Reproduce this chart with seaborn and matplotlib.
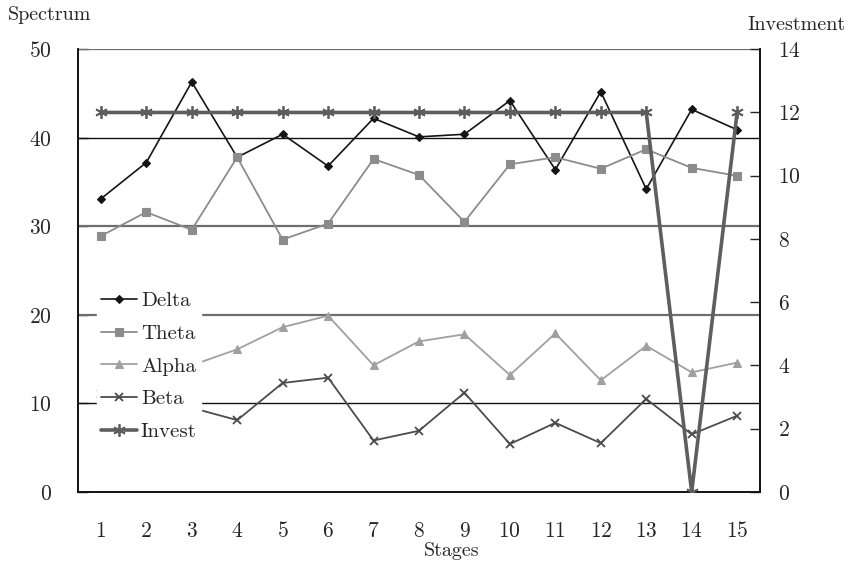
import numpy as np
import pandas as pd
import matplotlib.pyplot as plt
import seaborn as sns

stages = list(range(1, 16))
delta = [33.1, 37.2, 46.3, 37.8, 40.4, 36.8, 42.2, 40.1, 40.4, 44.2, 36.4, 45.2, 34.2, 43.2, 40.9]
theta = [28.9, 31.6, 29.6, 37.8, 28.5, 30.3, 37.6, 35.8, 30.5, 37.0, 37.8, 36.5, 38.7, 36.6, 35.7]
alpha = [17.4, 15.8, 14.3, 16.1, 18.6, 19.9, 14.3, 17.0, 17.8, 13.2, 17.9, 12.6, 16.5, 13.5, 14.6]
beta = [11.0, 10.6, 9.5, 8.1, 12.3, 12.9, 5.8, 6.9, 11.2, 5.4, 7.8, 5.5, 10.5, 6.5, 8.6]
invest = [12, 12, 12, 12, 12, 12, 12, 12, 12, 12, 12, 12, 12, 0, 12]

sns.set_style("white")
plt.rcParams['font.family'] = ['cmr10', 'DejaVu Serif']
plt.rcParams['axes.formatter.use_mathtext'] = True
plt.rcParams['mathtext.fontset'] = 'cm'

fig = plt.figure(figsize=(8.49, 5.66), dpi=100)
ax = fig.add_axes([0.092, 0.131, 0.803, 0.782])
ax2 = ax.twinx()

# horizontal grid lines (black / gray alternating like the original)
grid_cols = {10: '#111111', 20: '#6e6e6e', 30: '#6e6e6e', 40: '#111111', 50: '#6e6e6e'}
for yv, c in grid_cols.items():
    ax.axhline(yv, color=c, lw=1.0 if c == '#111111' else 1.6, zorder=1)

series = [
    (ax, delta, 'Delta', '#151515', 'D', 4.5, 1.2),
    (ax, theta, 'Theta', '#8c8c8c', 's', 5.5, 1.3),
    (ax, alpha, 'Alpha', '#a0a0a0', '^', 5.5, 1.3),
    (ax, beta, 'Beta', '#4c4c4c', 'x', 6, 1.3),
    (ax2, invest, 'Invest', '#5e5e5e', (6, 2, 0), 9, 2.6),
]
for a, vals, name, col, mk, ms, lw in series:
    sns.lineplot(x=stages, y=vals, ax=a, color=col, label=name, zorder=3)
    ln = a.lines[-1]
    ln.set_linestyle('-')
    ln.set_linewidth(lw)
    ln.set_marker(mk)
    ln.set_markersize(ms)
    ln.set_markerfacecolor(col)
    ln.set_markeredgecolor(col)
    ln.set_markeredgewidth(1.3 if mk in ('x', (6, 2, 0)) else 0.8)

ax.set_xlim(0.5, 15.5)
ax.set_ylim(0, 50)
ax2.set_ylim(0, 14)
ax.set_yticks([0, 10, 20, 30, 40, 50])
ax2.set_yticks([0, 2, 4, 6, 8, 10, 12, 14])
ax.set_xticks(stages)
ax.set_xticks(np.arange(1.5, 15, 1), minor=True)

ax.tick_params(axis='x', which='major', length=0, pad=21, labelsize=15.5)
ax.tick_params(axis='x', which='minor', direction='in', length=6, width=1)
ax.tick_params(axis='y', direction='in', length=7, width=1, pad=19, labelsize=15.5)
ax2.tick_params(axis='y', direction='in', length=7, width=1, pad=13, labelsize=15.5)

for a in (ax, ax2):
    a.spines['top'].set_visible(False)
    for s in ('left', 'right', 'bottom'):
        a.spines[s].set_color('#111111')
        a.spines[s].set_linewidth(1.2)
ax.set_xlabel('')
ax.set_ylabel('')
ax2.set_ylabel('')

h1, l1 = ax.get_legend_handles_labels()
h2, l2 = ax2.get_legend_handles_labels()
if ax.get_legend():
    ax.get_legend().remove()
leg = ax2.legend(h1 + h2, l1 + l2, loc='upper left', bbox_to_anchor=(0.028, 0.462),
                 frameon=True, facecolor='white', edgecolor='white', framealpha=1,
                 fontsize=15, handlelength=1.7, handletextpad=0.2, labelspacing=0.68,
                 borderpad=0.2, borderaxespad=0)
leg.set_zorder(10)

fig.text(0.009, 0.973, 'Spectrum', fontsize=14.5, ha='left', va='center')
fig.text(0.996, 0.956, 'Investment', fontsize=14.5, ha='right', va='center')
fig.text(0.532, 0.027, 'Stages', fontsize=14.5, ha='center', va='center')

plt.savefig("out.png", dpi=100)
